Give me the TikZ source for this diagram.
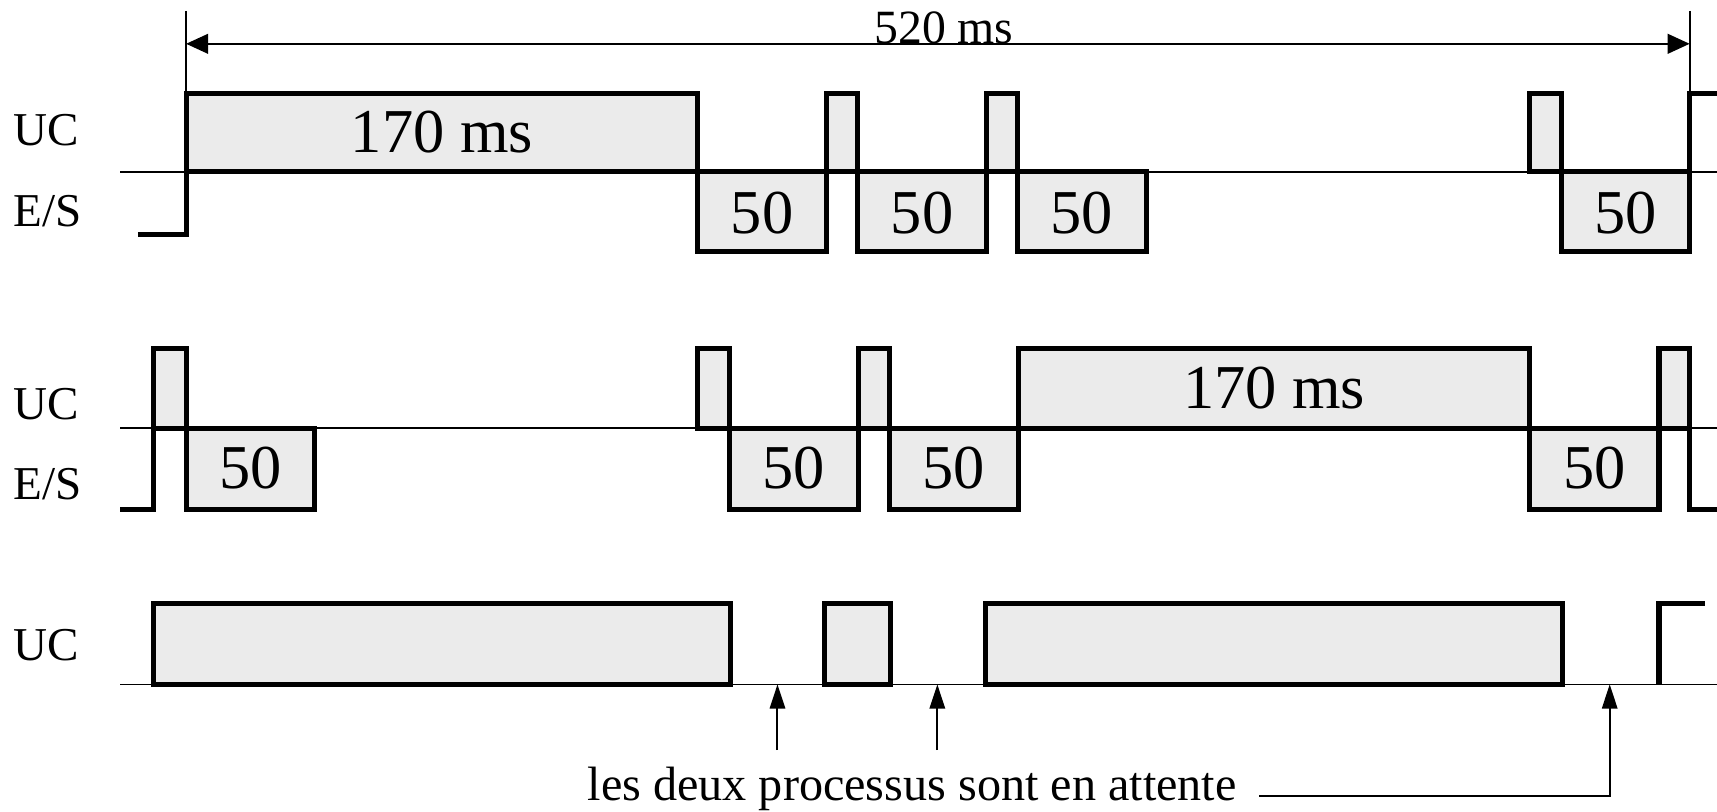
\documentclass[tikz,border=0pt]{standalone}
\usepackage{fontspec}
\setmainfont{Liberation Serif}
\usetikzlibrary{arrows.meta}
\definecolor{boxgray}{RGB}{235,235,235}
\begin{document}
\begin{tikzpicture}[x=0.5pt,y=-0.5pt,
  sig/.style={line width=2.3pt,line join=miter},
  busy/.style={fill=boxgray},
  axis/.style={line width=0.8pt},
  lbl/.style={font=\fontsize{21.5}{24}\selectfont,anchor=base west,inner sep=0pt},
  dur/.style={font=\fontsize{28.5}{30}\selectfont,anchor=base,inner sep=0pt},
  note/.style={font=\fontsize{22}{24}\selectfont,anchor=base,inner sep=0pt},
  dimline/.style={line width=0.8pt,{Triangle[length=10pt,width=9pt]}-{Triangle[length=10pt,width=9pt]}},
  waitarrow/.style={line width=0.9pt,-{Triangle[length=11pt,width=7pt]}}]
\fill[white] (0,0) rectangle (1568,741);
\useasboundingbox (0,0) rectangle (1568,741);

% time axes
\draw[axis] (110,157) -- (1568,157);
\draw[axis] (110,391) -- (1568,391);
\draw[axis] (110,625) -- (1568,625);

% ---- process 1: CPU bursts above the axis, I/O below
\foreach \a/\b in {170/637,755/783,901/929,1397/1426} \fill[busy] (\a,85) rectangle (\b,157);
\foreach \a/\b in {637/755,783/901,929/1047,1426/1543} \fill[busy] (\a,157) rectangle (\b,230);
\foreach \a/\b in {170/637,755/783,901/929,1397/1426} \draw[sig] (\a,85) rectangle (\b,157);
\foreach \a/\b in {637/755,783/901,929/1047,1426/1543} \draw[sig] (\a,157) rectangle (\b,230);
\draw[sig] (126,214) -- (170,214) -- (170,157);
\draw[sig] (1543,157) -- (1543,85) -- (1580,85);

% ---- process 2
\foreach \a/\b in {140/170,637/666,784/812,930/1397,1515/1543} \fill[busy] (\a,318) rectangle (\b,391);
\foreach \a/\b in {170/287,666/784,812/930,1397/1515} \fill[busy] (\a,391) rectangle (\b,465);
\foreach \a/\b in {140/170,637/666,784/812,930/1397,1515/1543} \draw[sig] (\a,318) rectangle (\b,391);
\foreach \a/\b in {170/287,666/784,812/930,1397/1515} \draw[sig] (\a,391) rectangle (\b,465);
\draw[sig] (110,465) -- (140,465) -- (140,391);
\draw[sig] (1543,391) -- (1543,465) -- (1580,465);

% ---- resulting CPU occupation
\foreach \a/\b in {140/667,753/813,900/1427} \filldraw[busy,sig] (\a,551) rectangle (\b,625);
\draw[sig] (1515,625) -- (1515,551) -- (1557,551);

% row labels
\node[lbl] (uc1) at (12,133) {UC};
\node[lbl] (es1) at (12,207) {E/S};
\node[lbl] (uc2) at (12,383) {UC};
\node[lbl] (es2) at (12,456) {E/S};
\node[lbl] (uc3) at (12,603) {UC};

% burst durations
\node[dur] (b1) at (403.5,139) {170 ms};
\foreach \c [count=\i] in {696,842,988,1484.5} \node[dur] (p1io\i) at (\c,213) {50};
\node[dur] (b2) at (1163.5,373) {170 ms};
\foreach \c [count=\i] in {228.5,725,871,1456} \node[dur] (p2io\i) at (\c,446) {50};

% period dimension
\coordinate (tickL) at (170,10);
\coordinate (tickLb) at (170,85);
\coordinate (tickR) at (1543,10);
\coordinate (tickRb) at (1543,85);
\draw[axis] (tickL) -- (tickLb);
\draw[axis] (tickR) -- (tickRb);
\coordinate (dimL) at (170,40);
\coordinate (dimR) at (1543,40);
\draw[dimline] (dimL) -- (dimR);
\node[note,font=\fontsize{21.8}{24}\selectfont] (period) at (862,40) {520 ms};

% idle instants
\node[note] (idle) at (833,731) {les deux processus sont en attente};
\coordinate (i1) at (710,625); \coordinate (i1t) at (710,685);
\coordinate (i2) at (856,625); \coordinate (i2t) at (856,685);
\coordinate (i3) at (1470,625); \coordinate (i3k) at (1470,727);
\coordinate (i3s) at (1150,727);
\draw[waitarrow] (i1t) -- (i1);
\draw[waitarrow] (i2t) -- (i2);
\draw[waitarrow] (i3s) -- (i3k) -- (i3);
\end{tikzpicture}
\end{document}
